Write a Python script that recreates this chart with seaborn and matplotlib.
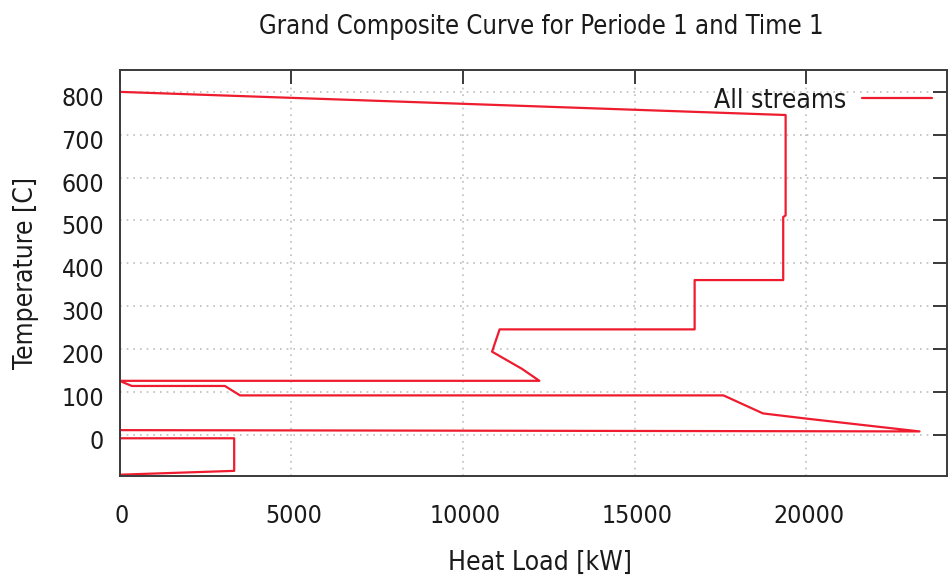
import matplotlib
matplotlib.use("Agg")
import matplotlib.pyplot as plt
import matplotlib.transforms as mtransforms
import pandas as pd
import seaborn as sns

# Grand composite curve: net heat load versus shifted temperature
heat_load_kw = [0, 19400, 19400, 19330, 19330, 16750, 16750, 11070, 10850, 11720,
                12230, 0, 360, 3070, 3510, 17590, 18740, 19990, 23300, 0,
                0, 3340, 3340, 0]
temperature_c = [800, 746, 512, 508, 361, 361, 246, 246, 194, 154,
                 126, 126, 114, 114, 92, 92, 50, 38, 8, 11,
                 -8, -8, -84, -93]
series_name = "All streams"
x_ticks = [0, 5000, 10000, 15000, 20000]
y_ticks = [0, 100, 200, 300, 400, 500, 600, 700, 800]

sns.set_theme(style="white")
plt.rcParams["font.family"] = ["DejaVu Sans"]
plt.rcParams["font.stretch"] = "condensed"

df = pd.DataFrame({"Heat Load [kW]": heat_load_kw,
                   "Temperature [C]": temperature_c,
                   "series": series_name})

W, H = 950, 578
fig = plt.figure(figsize=(W / 100, H / 100), dpi=100)
left, right, top, bottom = 119.5, 947, 70, 476
ax = fig.add_axes([left / W, 1 - bottom / H, (right - left) / W, (bottom - top) / H])

sns.lineplot(data=df, x="Heat Load [kW]", y="Temperature [C]", hue="series",
             palette=["#ee1c2e"], sort=False, estimator=None, linewidth=1.6, ax=ax)

ax.set_xlim(0, 24100)
ax.set_ylim(-96, 851)
ax.set_xticks(x_ticks)
ax.set_yticks(y_ticks)

ink = "#3a3a3a"
text_ink = "#1a1a1a"
fs = 17.8
label_fs = 19
for s in ax.spines.values():
    s.set_color(ink)
    s.set_linewidth(1.4)
ax.tick_params(axis="both", which="major", direction="in", length=10, width=1.4,
               color=ink, labelcolor=text_ink, labelsize=fs,
               top=True, right=True)
ax.tick_params(axis="x", pad=20)
ax.tick_params(axis="y", pad=11)

# nudge tick labels slightly (x right, y down)
dx = mtransforms.ScaledTranslation(2.5 / 100, 0, fig.dpi_scale_trans)
dy = mtransforms.ScaledTranslation(0, -4.5 / 100, fig.dpi_scale_trans)
for lab in ax.get_xticklabels():
    lab.set_transform(lab.get_transform() + dx)
for lab in ax.get_yticklabels():
    lab.set_transform(lab.get_transform() + dy)

ax.grid(True, color="#bdbdbd", linestyle=(0, (1, 3)), linewidth=1.2)

ax.set_xlabel("Heat Load [kW]", fontsize=label_fs, color=text_ink)
ax.set_ylabel("Temperature [C]", fontsize=label_fs, color=text_ink)
ax.xaxis.set_label_coords((540 - left) / (right - left), -(563 - bottom) / (bottom - top))
ax.xaxis.label.set_va("center")
ax.yaxis.set_label_coords(-(left - 26) / (right - left), 0.5)
ax.yaxis.label.set_va("center")

fig.text(541.7 / W, 1 - 27 / H, "Grand Composite Curve for Periode 1 and Time 1",
         ha="center", va="center", fontsize=18.4, color=text_ink)

handles, labels = ax.get_legend_handles_labels()
ax.legend(handles, labels, loc="center right",
          bbox_to_anchor=((931.7 - left) / (right - left), (bottom - 100.7) / (bottom - top)),
          frameon=False, markerfirst=False, fontsize=19, labelcolor=text_ink,
          handlelength=70 / (19 * 100 / 72), handletextpad=15 / (19 * 100 / 72),
          borderpad=0, borderaxespad=0)

fig.savefig("out.png", dpi=100)
